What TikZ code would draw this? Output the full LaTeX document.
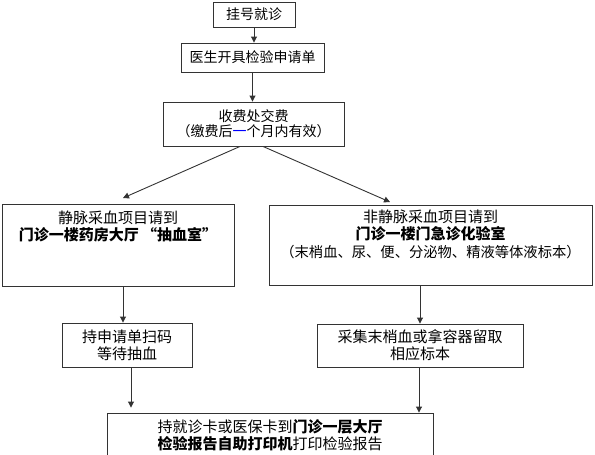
\documentclass[tikz,border=0pt]{standalone}
\usepackage{fontspec}
\setmainfont{Noto Sans CJK SC}
\usetikzlibrary{arrows.meta,calc}
\begin{document}
\begin{tikzpicture}[x=1pt,y=-1pt,
  box/.style={draw=black!80, line width=0.9pt, inner sep=0pt, align=center, text=black},
  txt/.style={inner sep=0pt, align=center, text=black},
  arr/.style={draw=black!80, line width=0.9pt, -{Triangle[width=6pt,length=6pt]}},
  fa/.style={font=\fontsize{14}{15}\selectfont},
  fb/.style={font=\fontsize{15}{17}\selectfont},
  fc/.style={font=\fontsize{15}{17.5}\selectfont}]
\useasboundingbox (0,0) rectangle (595,455);
\clip (0,0) rectangle (595,455);
% top chain
\node[box,fa,minimum width=82pt,minimum height=25pt] (b1) at (254,14.5) {挂号就诊};
\node[box,fa,minimum width=143pt,minimum height=29pt] (b2) at (252.5,57.5) {医生开具检验申请单};
\node[box,fa,minimum width=181pt,minimum height=44pt] (b3) at (253.5,124) {收费处交费\\（缴费后\textcolor{blue}{一}个月内有效）};
% two branches
\node[box,minimum width=232pt,minimum height=82pt] (L) at (118,245) {};
\node[txt,fb] (Lt) at (118,226.5) {静脉采血项目请到\\\textbf{门诊一楼药房大厅 “抽血室”}};
\node[box,minimum width=323pt,minimum height=80pt] (R) at (430.5,245) {};
\node[txt,fc] (Rt) at (430.5,234) {非静脉采血项目请到\\\textbf{门诊一楼门急诊化验室}\\{\fontsize{14.3}{17.5}\selectfont（末梢血、尿、便、分泌物、精液等体液标本）}};
\node[box,fb,minimum width=130pt,minimum height=44pt] (SL) at (127,345) {持申请单扫码\\等待抽血};
\node[box,fb,minimum width=206pt,minimum height=43pt] (SR) at (420,345.5) {采集末梢血或拿容器留取\\相应标本};
\node[box,fb,minimum width=326pt,minimum height=45pt] (B) at (270,435.5) {持就诊卡或医保卡到\textbf{门诊一层大厅}\\\textbf{检验报告自助打印机}打印检验报告};
% connectors
\draw[arr] (b1.south) -- (b1.south |- b2.north);
\draw[arr] (b2.south) -- (b2.south |- b3.north);
\coordinate (lt) at (123,198);
\coordinate (rt) at (390,202);
\coordinate (ls) at ($(b3.south)+(-13.5,0)$);
\coordinate (rs) at ($(b3.south)+(9.5,0)$);
\draw[arr] (ls) -- (lt);
\draw[arr] (rs) -- (rt);
\coordinate (l1) at ($(L.south)+(5,0)$);
\coordinate (r1) at ($(R.south)+(-10.5,0)$);
\coordinate (l2) at ($(SL.south)+(4,0)$);
\coordinate (r2) at ($(SR.south)+(-1,0)$);
\draw[arr] (l1) -- (l1 |- SL.north);
\draw[arr] (r1) -- (r1 |- SR.north);
\draw[arr, shorten >=5pt] (l2) -- (l2 |- B.north);
\draw[arr] (r2) -- (r2 |- B.north);
\end{tikzpicture}
\end{document}
